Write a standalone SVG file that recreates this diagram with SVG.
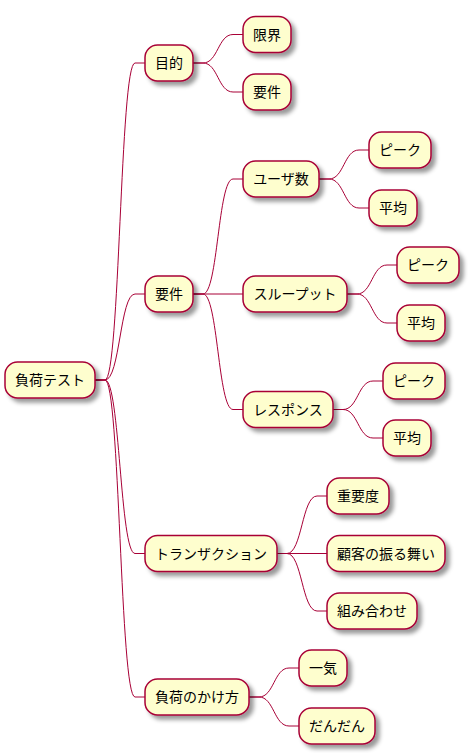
<svg xmlns="http://www.w3.org/2000/svg" width="468" height="753" viewBox="0 0 468 753">
<style>
.n rect{fill:#FEFECE;stroke:#A80036;stroke-width:1.5;filter:url(#sh)}
.n text{font-family:"Noto Sans CJK JP","Noto Sans",sans-serif;font-size:14px;fill:#000;text-anchor:middle}
#connectors path{fill:none;stroke:#A80036;stroke-width:1}
</style>
<defs>
<filter id="sh" x="-1" y="-1" width="300%" height="300%">
<feGaussianBlur result="b" stdDeviation="2"/>
<feColorMatrix in="b" result="b2" type="matrix" values="0 0 0 0 0 0 0 0 0 0 0 0 0 0 0 0 0 0 .4 0"/>
<feOffset dx="4" dy="4" in="b2" result="b3"/>
<feBlend in="SourceGraphic" in2="b3" mode="normal"/>
</filter>
</defs>
<rect width="468" height="753" fill="#FFFFFF"/>
<g id="connectors">
<path d="M95,380 L105,380 C120,380 120,63 135,63 L145,63"/>
<path d="M95,380 L105,380 C120,380 120,294 135,294 L145,294"/>
<path d="M95,380 L105,380 C120,380 120,553.5 135,553.5 L145,553.5"/>
<path d="M95,380 L105,380 C120,380 120,697 135,697 L145,697"/>
<path d="M193,63 L203,63 C218,63 218,34.5 233,34.5 L243,34.5"/>
<path d="M193,63 L203,63 C218,63 218,92 233,92 L243,92"/>
<path d="M193,294 L203,294 C218,294 218,179 233,179 L243,179"/>
<path d="M193,294 L243,294"/>
<path d="M193,294 L203,294 C218,294 218,409.5 233,409.5 L243,409.5"/>
<path d="M319,179 L329,179 C344,179 344,150 359,150 L369,150"/>
<path d="M319,179 L329,179 C344,179 344,208 359,208 L369,208"/>
<path d="M347,294 L357,294 C372,294 372,265 387,265 L397,265"/>
<path d="M347,294 L357,294 C372,294 372,323 387,323 L397,323"/>
<path d="M333,409.5 L343,409.5 C358,409.5 358,381 373,381 L383,381"/>
<path d="M333,409.5 L343,409.5 C358,409.5 358,438 373,438 L383,438"/>
<path d="M277,553.5 L287,553.5 C302,553.5 302,496 317,496 L327,496"/>
<path d="M277,553.5 L327,553.5"/>
<path d="M277,553.5 L287,553.5 C302,553.5 302,611 317,611 L327,611"/>
<path d="M249,697 L259,697 C274,697 274,668 289,668 L299,668"/>
<path d="M249,697 L259,697 C274,697 274,726 289,726 L299,726"/>
</g>
<g id="root" class="n"><rect x="5" y="362" width="90" height="36" rx="12.5"/><text x="50" y="385">負荷テスト</text></g>
<g id="n1" class="n"><rect x="145" y="45" width="48" height="36" rx="12.5"/><text x="169" y="68">目的</text></g>
<g id="n1a" class="n"><rect x="243" y="16.5" width="48" height="36" rx="12.5"/><text x="267" y="39.5">限界</text></g>
<g id="n1b" class="n"><rect x="243" y="74" width="48" height="36" rx="12.5"/><text x="267" y="97">要件</text></g>
<g id="n2" class="n"><rect x="145" y="276" width="48" height="36" rx="12.5"/><text x="169" y="299">要件</text></g>
<g id="n2a" class="n"><rect x="243" y="161" width="76" height="36" rx="12.5"/><text x="281" y="184">ユーザ数</text></g>
<g id="n2a1" class="n"><rect x="369" y="132" width="62" height="36" rx="12.5"/><text x="400" y="155">ピーク</text></g>
<g id="n2a2" class="n"><rect x="369" y="190" width="48" height="36" rx="12.5"/><text x="393" y="213">平均</text></g>
<g id="n2b" class="n"><rect x="243" y="276" width="104" height="36" rx="12.5"/><text x="295" y="299">スループット</text></g>
<g id="n2b1" class="n"><rect x="397" y="247" width="62" height="36" rx="12.5"/><text x="428" y="270">ピーク</text></g>
<g id="n2b2" class="n"><rect x="397" y="305" width="48" height="36" rx="12.5"/><text x="421" y="328">平均</text></g>
<g id="n2c" class="n"><rect x="243" y="391.5" width="90" height="36" rx="12.5"/><text x="288" y="414.5">レスポンス</text></g>
<g id="n2c1" class="n"><rect x="383" y="363" width="62" height="36" rx="12.5"/><text x="414" y="386">ピーク</text></g>
<g id="n2c2" class="n"><rect x="383" y="420" width="48" height="36" rx="12.5"/><text x="407" y="443">平均</text></g>
<g id="n3" class="n"><rect x="145" y="535.5" width="132" height="36" rx="12.5"/><text x="211" y="558.5">トランザクション</text></g>
<g id="n3a" class="n"><rect x="327" y="478" width="62" height="36" rx="12.5"/><text x="358" y="501">重要度</text></g>
<g id="n3b" class="n"><rect x="327" y="535.5" width="118" height="36" rx="12.5"/><text x="386" y="558.5">顧客の振る舞い</text></g>
<g id="n3c" class="n"><rect x="327" y="593" width="90" height="36" rx="12.5"/><text x="372" y="616">組み合わせ</text></g>
<g id="n4" class="n"><rect x="145" y="679" width="104" height="36" rx="12.5"/><text x="197" y="702">負荷のかけ方</text></g>
<g id="n4a" class="n"><rect x="299" y="650" width="48" height="36" rx="12.5"/><text x="323" y="673">一気</text></g>
<g id="n4b" class="n"><rect x="299" y="708" width="76" height="36" rx="12.5"/><text x="337" y="731">だんだん</text></g>
</svg>
